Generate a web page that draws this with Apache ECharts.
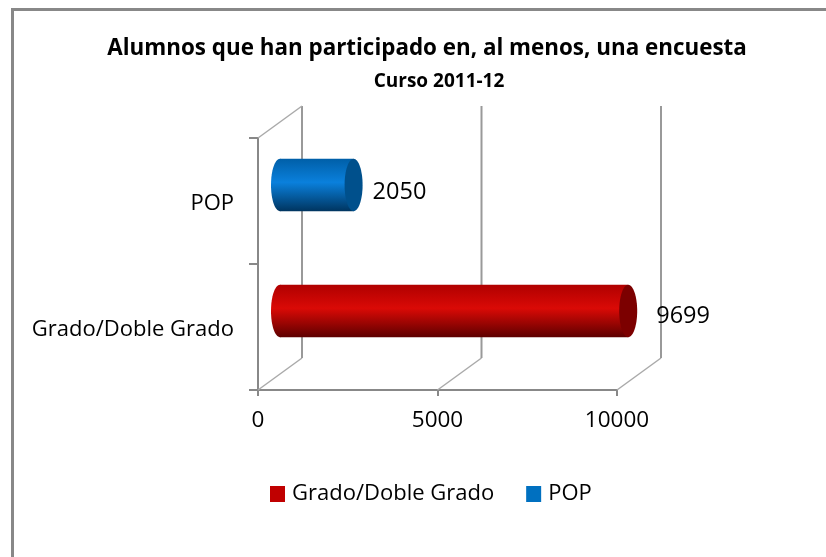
<!DOCTYPE html>
<html lang="es">
<head>
    <meta charset="UTF-8">
    <title>Alumnos encuesta</title>
    <script src="https://cdn.jsdelivr.net/npm/echarts@6/dist/echarts.min.js"></script>
    <style>
        html, body { margin: 0; padding: 0; background: #fff; }
    </style>
</head>
<body>
    <div id="myChart" style="width: 826px;height:557px;"></div>

    <script>
        var categories = ['Grado/Doble Grado', 'POP'];
        var gradoValues = [[9699, 0]];
        var popValues = [[2050, 1]];
        var xTicks = [0, 5000, 10000];

        var font = '"Open Sans", sans-serif';
        var depthX = 44, depthY = -32;   // fondo de la caja 3D

        // paredes del fondo
        function renderWall(params, api) {
            var v = api.value(0);
            var cs = params.coordSys;
            var x = api.coord([v, 0])[0];
            var y0 = cs.y + cs.height;
            var gray = { stroke: '#999999', lineWidth: 2 };
            var thin = { stroke: '#aaaaaa', lineWidth: 1.5 };
            var children = [
                { type: 'line', shape: { x1: x, y1: y0, x2: x + depthX, y2: y0 + depthY }, style: thin },
                { type: 'line', shape: { x1: x + depthX, y1: y0 + depthY, x2: x + depthX, y2: cs.y + depthY }, style: gray }
            ];
            if (v === 0) {
                children.push({ type: 'line', shape: { x1: x, y1: cs.y, x2: x + depthX, y2: cs.y + depthY }, style: thin });
            }
            return { type: 'group', children: children };
        }

        // cilindro a media profundidad
        function cylinder(colors, capColor, labelDx, labelDy) {
            return function (params, api) {
                var end = api.coord([api.value(0), api.value(1)]);
                var start = api.coord([0, api.value(1)]);
                var h = api.size([0, 1])[1] * 0.415;
                var x0 = start[0] + depthX / 2;
                var x1 = end[0] + depthX / 2;
                var cy = end[1] + depthY / 2;
                var rx = 9, ry = h / 2;
                var fill = new echarts.graphic.LinearGradient(0, 0, 0, 1, [
                    { offset: 0, color: colors[0] },
                    { offset: 0.45, color: colors[1] },
                    { offset: 1, color: colors[2] }
                ]);
                return {
                    type: 'group',
                    children: [
                        { type: 'ellipse', shape: { cx: x0, cy: cy, rx: rx, ry: ry }, style: { fill: fill } },
                        { type: 'rect', shape: { x: x0, y: cy - ry, width: x1 - x0, height: h }, style: { fill: fill } },
                        { type: 'ellipse', shape: { cx: x1, cy: cy, rx: rx, ry: ry }, style: { fill: capColor } },
                        {
                            type: 'text',
                            style: {
                                text: String(api.value(0)),
                                x: x1 + rx + labelDx,
                                y: cy + labelDy,
                                fill: '#000',
                                font: '23.5px ' + font,
                                textAlign: 'left',
                                textVerticalAlign: 'middle'
                            }
                        }
                    ]
                };
            };
        }

        var myChart = echarts.init(document.getElementById('myChart'));
        var option = {
            animation: false,
            backgroundColor: '#fff',
            title: [
                {
                    text: 'Alumnos que han participado en, al menos, una encuesta',
                    left: 422,
                    top: 33,
                    textAlign: 'center',
                    textStyle: { fontFamily: font, fontSize: 22.4, fontWeight: 'bold', color: '#000' }
                },
                {
                    text: 'Curso 2011-12',
                    left: 434,
                    top: 67,
                    textAlign: 'center',
                    textStyle: { fontFamily: font, fontSize: 19, fontWeight: 'bold', color: '#000' }
                }
            ],
            legend: {
                left: 265,
                top: 478,
                itemWidth: 15,
                itemHeight: 16,
                itemGap: 32,
                icon: 'rect',
                data: categories,
                textStyle: { fontFamily: font, fontSize: 22, color: '#000', padding: [0, 0, 0, 2] }
            },
            grid: { left: 258, right: 209, top: 138, height: 252 },
            xAxis: {
                type: 'value',
                min: 0,
                max: 10000,
                interval: 5000,
                axisLine: { show: true, lineStyle: { color: '#888', width: 2 } },
                axisTick: { show: true, length: 6, lineStyle: { color: '#888', width: 2 } },
                axisLabel: {
                    margin: 19,
                    fontFamily: font,
                    fontSize: 22.5,
                    color: '#000',
                    formatter: function (v) { return String(v); }
                },
                splitLine: { show: false }
            },
            yAxis: {
                type: 'category',
                data: categories,
                axisLine: { show: true, lineStyle: { color: '#888', width: 2 } },
                axisTick: { show: true, length: 9, lineStyle: { color: '#888', width: 2 } },
                axisLabel: { margin: 24, fontFamily: font, fontSize: 22, color: '#000', verticalAlign: 'top', lineHeight: 6 }
            },
            graphic: [{
                type: 'rect',
                silent: true,
                shape: { x: 12.5, y: 9.5, width: 900, height: 700 },
                style: { fill: 'none', stroke: '#888', lineWidth: 3 }
            }],
            series: [
                {
                    type: 'custom',
                    name: 'paredes',
                    clip: false,
                    silent: true,
                    renderItem: renderWall,
                    encode: { x: 0 },
                    data: xTicks.map(function (t) { return [t]; })
                },
                {
                    type: 'custom',
                    name: categories[0],
                    clip: false,
                    itemStyle: { color: '#c00000' },
                    renderItem: cylinder(['#b00000', '#da0a06', '#5e0000'], '#7c0000', 19, 5),
                    encode: { x: 0, y: 1 },
                    data: gradoValues
                },
                {
                    type: 'custom',
                    name: categories[1],
                    clip: false,
                    itemStyle: { color: '#0070c0' },
                    renderItem: cylinder(['#005fa8', '#0a80dc', '#003560'], '#00508c', 10, 7),
                    encode: { x: 0, y: 1 },
                    data: popValues
                }
            ]
        };
        myChart.setOption(option);
    </script>
</body>
</html>
